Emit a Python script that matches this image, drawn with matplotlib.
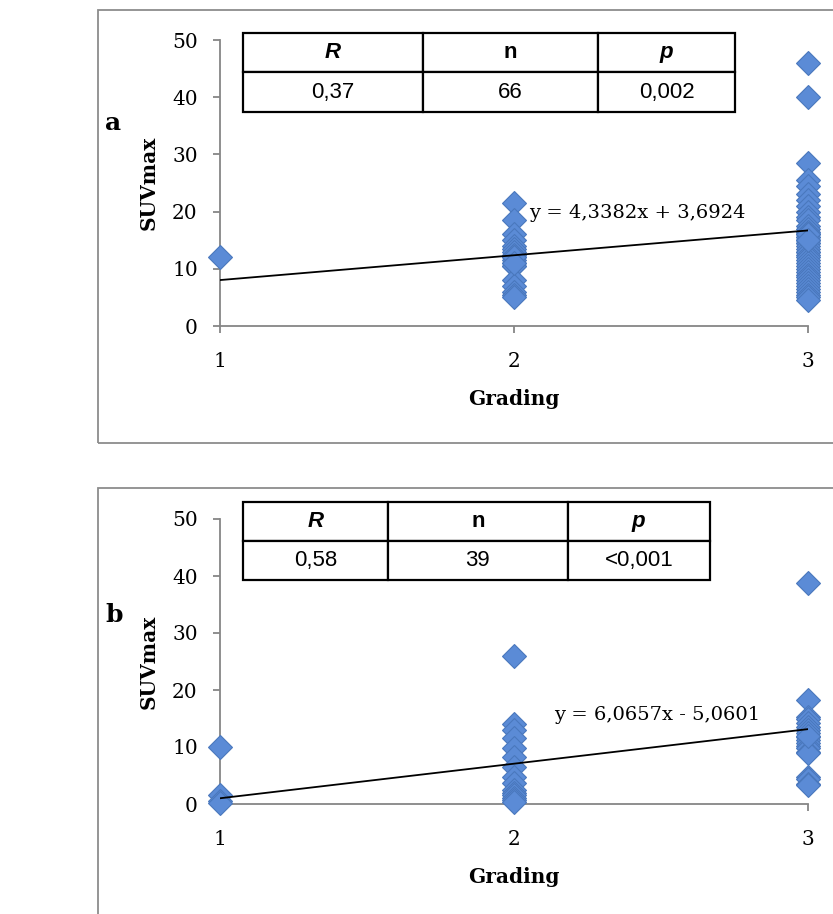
import matplotlib
matplotlib.use("Agg")
import matplotlib.pyplot as plt
from matplotlib.patches import Rectangle

# panel a data
a_x1 = [12]
a_x2 = [21.5, 18.5, 16, 15, 14, 13.5, 13, 12.5, 12, 11.5, 11, 10.5, 10.5, 8, 7, 6, 5.5, 5, 12, 11]
a_x3 = [46, 40, 28.5, 25.5, 24.5, 23, 22, 21, 20, 19, 18.5, 17.5, 17, 16.5, 16, 16, 15.5, 15.5, 15, 15,
        14.5, 14.5, 14, 13.5, 13, 13, 12.5, 12, 11.5, 11, 10.5, 10, 9.5, 9, 8.5, 8, 7.5, 7, 6.5, 6,
        5.5, 5, 4.5, 16, 15]
a_slope, a_icpt = 4.3382, 3.6924
a_eq = "y = 4,3382x + 3,6924"
a_table = [["R", "n", "p"], ["0,37", "66", "0,002"]]

# panel b data
b_x1 = [10, 1.5, 0.5, 0.2]
b_x2 = [26, 14, 13, 11.5, 9.8, 8.3, 6.5, 4.8, 3.6, 2.5, 2, 1.6, 1, 0.7, 0.3]
b_x3 = [38.8, 18.2, 15.3, 15, 14.2, 13.5, 13, 12.5, 11.8, 11.3, 10.7, 10.2, 9.8, 9.2, 9, 4.8, 4.3,
        3.5, 3.3, 12]
b_slope, b_icpt = 6.0657, -5.0601
b_eq = "y = 6,0657x - 5,0601"
b_table = [["R", "n", "p"], ["0,58", "39", "<0,001"]]

serif = "DejaVu Serif"
gray = "#868686"
blue = "#5b8bd6"

fig = plt.figure(figsize=(8.33, 9.14), dpi=100)

# outer frames of the two panels
fig.patches.append(Rectangle((98/833, 1-443/914), 0.99, 433/914, transform=fig.transFigure,
                             fill=False, edgecolor="#8c8c8c", lw=1.3))
fig.patches.append(Rectangle((98/833, -0.1), 0.99, 0.1+(914-488)/914, transform=fig.transFigure,
                             fill=False, edgecolor="#8c8c8c", lw=1.3))


def panel(rect, x1, x2, x3, slope, icpt, eq, eqpos, tab, tabbox, colw, letter, letter_y):
    ax = fig.add_axes(rect)
    xs = [1]*len(x1) + [2]*len(x2) + [3]*len(x3)
    ys = list(x1) + list(x2) + list(x3)
    ax.plot(xs, ys, "D", ms=12.5, color=blue, mec="#4a78bd", mew=0.8, clip_on=False, zorder=3)
    ax.plot([1, 3], [slope*1 + icpt, slope*3 + icpt], color="black", lw=1.3, zorder=4)
    ax.set_xlim(1, 3)
    ax.set_ylim(0, 50)
    ax.set_xticks([1, 2, 3])
    ax.set_yticks([0, 10, 20, 30, 40, 50])
    for s in ["top", "right"]:
        ax.spines[s].set_visible(False)
    for s in ["left", "bottom"]:
        ax.spines[s].set_color(gray)
        ax.spines[s].set_linewidth(1.3)
    ax.tick_params(colors=gray, labelcolor="black", length=5, width=1.3, labelsize=14.5, pad=11)
    ax.tick_params(axis="x", pad=14)
    for lab in ax.get_xticklabels() + ax.get_yticklabels():
        lab.set_fontfamily(serif)
    ax.set_xlabel("Grading", fontfamily=serif, fontweight="bold", fontsize=14.5, labelpad=13)
    ax.set_ylabel("SUVmax", fontfamily=serif, fontweight="bold", fontsize=14.5, labelpad=10)
    ax.text(eqpos[0], eqpos[1], eq, fontfamily=serif, fontsize=14, va="center", zorder=5)
    t = ax.table(cellText=tab, cellLoc="center", bbox=tabbox, colWidths=colw)
    t.auto_set_font_size(False)
    for (r, c), cell in t.get_celld().items():
        cell.set_linewidth(1.6)
        cell.set_edgecolor("black")
        cell.set_facecolor("white")
        txt = cell.get_text()
        txt.set_fontfamily("Liberation Sans")
        txt.set_fontsize(16)
        if r == 0:
            txt.set_fontweight("bold")
            if c != 1:
                txt.set_fontstyle("italic")
    fig.text(105/833, 1-letter_y/914, letter, fontfamily=serif, fontweight="bold", fontsize=18,
             va="center")
    return ax


panel([220/833, 1-326/914, 588/833, 286/914], a_x1, a_x2, a_x3, a_slope, a_icpt, a_eq,
      (2.05, 19.8), a_table, [0.039, 0.749, 0.837, 0.276], [0.366, 0.356, 0.278], "a", 123)
panel([220/833, 1-804/914, 588/833, 285/914], b_x1, b_x2, b_x3, b_slope, b_icpt, b_eq,
      (2.135, 15.6), b_table, [0.039, 0.786, 0.794, 0.274], [0.31, 0.385, 0.304], "b", 615)

fig.savefig("out.png", dpi=100)
